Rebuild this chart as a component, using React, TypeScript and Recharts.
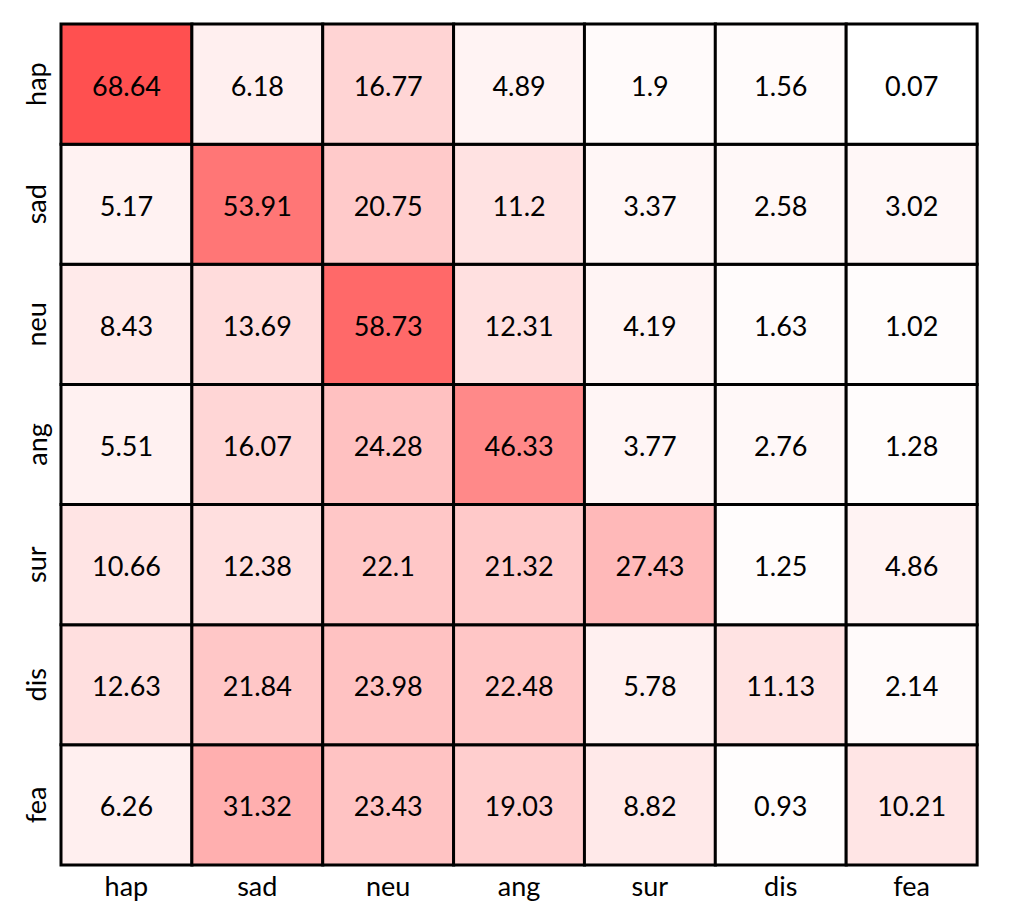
import React from "react";
import { BarChart, Bar, XAxis, YAxis, Cell, LabelList } from "recharts";

const colLabels = ["hap", "sad", "neu", "ang", "sur", "dis", "fea"];
const rowLabels = ["hap", "sad", "neu", "ang", "sur", "dis", "fea"];

const hapRow = [68.64, 6.18, 16.77, 4.89, 1.9, 1.56, 0.07];
const sadRow = [5.17, 53.91, 20.75, 11.2, 3.37, 2.58, 3.02];
const neuRow = [8.43, 13.69, 58.73, 12.31, 4.19, 1.63, 1.02];
const angRow = [5.51, 16.07, 24.28, 46.33, 3.77, 2.76, 1.28];
const surRow = [10.66, 12.38, 22.1, 21.32, 27.43, 1.25, 4.86];
const disRow = [12.63, 21.84, 23.98, 22.48, 5.78, 11.13, 2.14];
const feaRow = [6.26, 31.32, 23.43, 19.03, 8.82, 0.93, 10.21];

const matrix = [hapRow, sadRow, neuRow, angRow, surRow, disRow, feaRow];
const yTicks = [0.5, 1.5, 2.5, 3.5, 4.5, 5.5, 6.5];

// stack order bottom -> top: fea ... hap
const stackRows = [6, 5, 4, 3, 2, 1, 0];

const data = colLabels.map((c, ci) => {
  const o: any = { col: c };
  stackRows.forEach((r) => {
    o[`r${r}`] = 1;
    o[`v${r}`] = matrix[r][ci];
  });
  return o;
});

const colorFor = (v: number) => {
  const g = Math.round(255 * (1 - v / 100));
  return `rgb(255,${g},${g})`;
};

const FONT = "Lato, 'Open Sans', sans-serif";

const XTick = (props: any) => {
  const { x, payload } = props;
  return (
    <text x={x} y={877} textAnchor="middle" dominantBaseline="central" fontSize={27} fontFamily={FONT} fill="#000">
      {payload.value}
    </text>
  );
};

const YTick = (props: any) => {
  const { y, payload } = props;
  const idx = 6 - Math.floor(payload.value);
  return (
    <text
      x={28}
      y={y}
      textAnchor="middle"
      dominantBaseline="central"
      fontSize={27}
      fontFamily={FONT}
      fill="#000"
      transform={`rotate(-90, 28, ${y})`}
    >
      {rowLabels[idx]}
    </text>
  );
};

const CellLabel = (props: any) => {
  const { x, y, width, height, value } = props;
  return (
    <text
      x={x + width / 2}
      y={y + height / 2 + 1}
      textAnchor="middle"
      dominantBaseline="central"
      fontSize={27}
      fontFamily={FONT}
      fill="#000"
    >
      {value}
    </text>
  );
};

export default function App() {
  return (
    <div style={{ fontFamily: FONT }}>
      <BarChart
        width={1000}
        height={900}
        data={data}
        margin={{ top: 16, right: 31, left: 0, bottom: 0 }}
        barCategoryGap={0}
        barGap={0}
      >
        <XAxis dataKey="col" height={43} axisLine={false} tickLine={false} tick={<XTick />} interval={0} />
        <YAxis
          type="number"
          domain={[0, 7]}
          ticks={yTicks}
          width={53}
          axisLine={false}
          tickLine={false}
          tick={<YTick />}
          interval={0}
        />
        {stackRows.map((r) => (
          <Bar key={r} dataKey={`r${r}`} stackId="a" isAnimationActive={false} stroke="#000" strokeWidth={3}>
            {colLabels.map((c, ci) => (
              <Cell key={c} fill={colorFor(matrix[r][ci])} />
            ))}
            <LabelList dataKey={`v${r}`} content={<CellLabel />} />
          </Bar>
        ))}
      </BarChart>
    </div>
  );
}
